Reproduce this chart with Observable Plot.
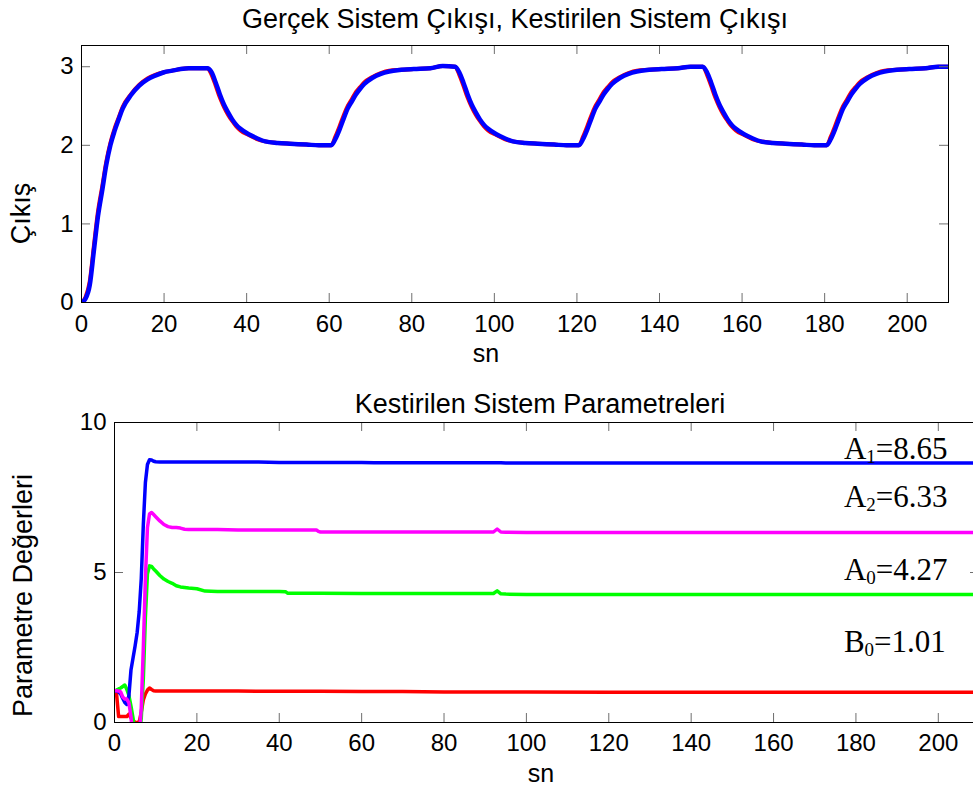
<!DOCTYPE html>
<html>
<head>
<meta charset="utf-8">
<script src="https://cdn.jsdelivr.net/npm/d3@7"></script>
<script src="https://cdn.jsdelivr.net/npm/@observablehq/plot@0.6"></script>
<style>
  html, body { margin: 0; padding: 0; background: #fff; overflow: hidden; }
  #sekil { position: relative; width: 973px; height: 791px; overflow: hidden; background: #fff; }
  #sekil > svg { position: absolute; left: 0; max-width: none; }
</style>
</head>
<body>
<div id="sekil"></div>
<script>
// ---- Üst grafik: gerçek ve kestirilen sistem çıkışı ----
const tCikis = [
  0, 1, 2, 3, 4, 5, 6, 7, 8, 9, 10, 12, 14, 16, 18, 20, 22, 24, 26, 28, 30.5,
  31.5, 32.5, 33.5, 34.5, 35.5, 36.5, 37.5, 38.5, 40.5, 42.5, 44.5, 47.5, 50.5, 54.5, 57.5, 60.5,
  61.5, 62.5, 63.5, 64.5, 65.5, 66.5, 67.5, 68.5, 70.5, 72.5, 74.5, 77.5, 80.5, 84.5, 87.5, 90.5,
  91.5, 92.5, 93.5, 94.5, 95.5, 96.5, 97.5, 98.5, 100.5, 102.5, 104.5, 107.5, 110.5, 114.5, 117.5, 120.5,
  121.5, 122.5, 123.5, 124.5, 125.5, 126.5, 127.5, 128.5, 130.5, 132.5, 134.5, 137.5, 140.5, 144.5, 147.5, 150.5,
  151.5, 152.5, 153.5, 154.5, 155.5, 156.5, 157.5, 158.5, 160.5, 162.5, 164.5, 167.5, 170.5, 174.5, 177.5, 180.5,
  181.5, 182.5, 183.5, 184.5, 185.5, 186.5, 187.5, 188.5, 190.5, 192.5, 194.5, 197.5, 200.5, 204.5, 207.5, 210
];
const yGercek = [
  0, 0.07, 0.27, 0.72, 1.16, 1.47, 1.79, 2.03, 2.21, 2.35, 2.49, 2.65, 2.77, 2.85, 2.90, 2.93, 2.95, 2.97, 2.98, 2.98, 2.98,
  2.90, 2.76, 2.61, 2.49, 2.39, 2.31, 2.24, 2.19, 2.13, 2.08, 2.05, 2.03, 2.02, 2.01, 2.00, 2.00,
  2.11, 2.24, 2.38, 2.50, 2.59, 2.68, 2.74, 2.80, 2.87, 2.92, 2.95, 2.96, 2.97, 2.98, 3.01, 3.00,
  2.90, 2.76, 2.61, 2.49, 2.39, 2.31, 2.24, 2.19, 2.13, 2.08, 2.05, 2.03, 2.02, 2.01, 2.00, 2.00,
  2.11, 2.24, 2.38, 2.50, 2.59, 2.68, 2.74, 2.80, 2.87, 2.92, 2.95, 2.96, 2.97, 2.98, 3.00, 3.00,
  2.90, 2.76, 2.61, 2.49, 2.39, 2.31, 2.24, 2.19, 2.13, 2.08, 2.05, 2.03, 2.02, 2.01, 2.00, 2.00,
  2.11, 2.24, 2.38, 2.50, 2.59, 2.68, 2.74, 2.80, 2.87, 2.92, 2.95, 2.96, 2.97, 2.98, 3.00, 3.00
];
const yKestirilen = [
  0, 0.05, 0.22, 0.66, 1.10, 1.42, 1.75, 2.00, 2.18, 2.33, 2.47, 2.64, 2.76, 2.84, 2.89, 2.93, 2.95, 2.97, 2.98, 2.98, 2.98,
  2.93, 2.80, 2.65, 2.52, 2.42, 2.33, 2.26, 2.21, 2.14, 2.09, 2.05, 2.03, 2.02, 2.01, 2.00, 2.00,
  2.08, 2.20, 2.34, 2.47, 2.56, 2.65, 2.72, 2.78, 2.86, 2.91, 2.94, 2.96, 2.97, 2.98, 3.01, 3.00,
  2.93, 2.80, 2.65, 2.52, 2.42, 2.33, 2.26, 2.21, 2.14, 2.09, 2.05, 2.03, 2.02, 2.01, 2.00, 2.00,
  2.08, 2.20, 2.34, 2.47, 2.56, 2.65, 2.72, 2.78, 2.86, 2.91, 2.94, 2.96, 2.97, 2.98, 3.00, 3.00,
  2.93, 2.80, 2.65, 2.52, 2.42, 2.33, 2.26, 2.21, 2.14, 2.09, 2.05, 2.03, 2.02, 2.01, 2.00, 2.00,
  2.08, 2.20, 2.34, 2.47, 2.56, 2.65, 2.72, 2.78, 2.86, 2.91, 2.94, 2.96, 2.97, 2.98, 3.00, 3.00
];
const xTikler = [0, 20, 40, 60, 80, 100, 120, 140, 160, 180, 200];
const yTiklerUst = [0, 1, 2, 3];

// ---- Alt grafik: kestirilen sistem parametreleri ----
const tParam = [
  0, 0.5, 1, 1.5, 2, 2.5, 3, 3.5, 4, 4.5,
  5, 5.5, 6, 6.5, 7, 7.5, 8, 8.5, 9, 9.5,
  10, 11, 12, 13, 14, 15, 16, 17, 18, 20,
  22, 25, 30, 35, 40, 41.5, 42, 45, 49, 49.5,
  50, 60, 63, 70, 80, 90, 92, 92.9, 93.8, 95,
  100, 120, 140, 160, 180, 200, 210
];
const paramA1 = [
  1.06, 1.05, 1.02, 0.95, 0.80, 0.67, 0.60, 0.90, 1.75, 2.15,
  2.55, 3.00, 3.70, 4.80, 6.60, 8.00, 8.60, 8.76, 8.75, 8.71,
  8.69, 8.68, 8.68, 8.68, 8.68, 8.68, 8.68, 8.68, 8.68, 8.68,
  8.68, 8.68, 8.68, 8.68, 8.67, 8.67, 8.67, 8.67, 8.67, 8.67,
  8.67, 8.67, 8.66, 8.66, 8.66, 8.66, 8.66, 8.66, 8.66, 8.65,
  8.65, 8.65, 8.65, 8.65, 8.65, 8.65, 8.65
];
const paramA2 = [
  1.06, 1.06, 1.05, 1.02, 0.85, 0.78, 0.78, 0.65, 0.20, -0.60,
  -1.00, -1.00, -0.50, 0.50, 2.50, 4.80, 6.50, 6.95, 7.00, 6.93,
  6.86, 6.72, 6.60, 6.53, 6.50, 6.50, 6.48, 6.44, 6.43, 6.43,
  6.43, 6.43, 6.42, 6.42, 6.42, 6.42, 6.42, 6.42, 6.42, 6.37,
  6.35, 6.35, 6.35, 6.35, 6.35, 6.35, 6.35, 6.45, 6.35, 6.34,
  6.33, 6.33, 6.33, 6.33, 6.33, 6.33, 6.33
];
const paramA0 = [
  1.06, 1.08, 1.12, 1.15, 1.20, 1.25, 1.10, 0.90, 0.55, 0.15,
  -0.40, -0.70, -0.50, 0.15, 1.45, 3.50, 4.96, 5.22, 5.20, 5.12,
  5.05, 4.90, 4.78, 4.70, 4.64, 4.56, 4.52, 4.50, 4.48, 4.46,
  4.38, 4.37, 4.37, 4.37, 4.37, 4.36, 4.31, 4.31, 4.31, 4.31,
  4.31, 4.30, 4.30, 4.30, 4.30, 4.30, 4.30, 4.39, 4.29, 4.28,
  4.27, 4.27, 4.27, 4.27, 4.27, 4.27, 4.27
];
const paramB0 = [
  1.06, 0.95, 0.20, 0.20, 0.20, 0.20, 0.20, 0.28, 0.15, 0.08,
  0.00, 0.00, 0.02, 0.35, 0.75, 0.95, 1.08, 1.15, 1.10, 1.06,
  1.05, 1.05, 1.05, 1.05, 1.05, 1.05, 1.05, 1.05, 1.05, 1.05,
  1.05, 1.05, 1.05, 1.04, 1.04, 1.04, 1.04, 1.04, 1.04, 1.04,
  1.04, 1.03, 1.03, 1.03, 1.02, 1.02, 1.02, 1.02, 1.02, 1.02,
  1.02, 1.01, 1.01, 1.01, 1.01, 1.01, 1.01
];
const yTiklerAlt = [0, 5, 10];

// Parametre etiketleri: harf, alt simge, son değer
const paramHarf = ["A", "A", "A", "B"];
const paramAltSimge = ["1", "2", "0", "0"];
const paramSonDeger = [8.65, 6.33, 4.27, 1.01];

const yaziTipi = "Liberation Sans, Arial, Helvetica, sans-serif";
const tikRengi = "#6e6e6e";
const tikBoyu = 9;

// İçe dönük tikler (dört kenarda)
function iceTikler(xs, ys, innerW, innerH) {
  return [
    Plot.tickX(xs, {x: d => d, insetTop: innerH - tikBoyu, stroke: tikRengi}),
    Plot.tickX(xs, {x: d => d, insetBottom: innerH - tikBoyu, stroke: tikRengi}),
    Plot.tickY(ys, {y: d => d, insetRight: innerW - tikBoyu, stroke: tikRengi}),
    Plot.tickY(ys, {y: d => d, insetLeft: innerW - tikBoyu, stroke: tikRengi})
  ];
}

// ---- Üst grafik ----
const ustTop = 0;
const ustW = 973, ustH = 372, ustML = 81, ustMR = 25, ustMT = 45, ustMB = 70;
const cikisVeri = tCikis.map((t, i) => ({t, gercek: yGercek[i], kestirilen: yKestirilen[i]}));

const ust = Plot.plot({
  width: ustW, height: ustH,
  marginLeft: ustML, marginRight: ustMR, marginTop: ustMT, marginBottom: ustMB,
  style: {fontFamily: yaziTipi, fontSize: "24px", background: "white", color: "black"},
  x: {domain: [0, 210]},
  y: {domain: [0, 3.27]},
  marks: [
    Plot.line(cikisVeri, {x: "t", y: "gercek", stroke: "#ff0000", strokeWidth: 4, clip: true, curve: "monotone-x"}),
    Plot.line(cikisVeri, {x: "t", y: "kestirilen", stroke: "#0000ff", strokeWidth: 4.5, clip: true, curve: "monotone-x"}),
    ...iceTikler(xTikler, yTiklerUst, ustW - ustML - ustMR, ustH - ustMT - ustMB),
    Plot.axisX({ticks: xTikler, tickSize: 0, tickPadding: 12, label: null, fontSize: 24, tickFormat: d => String(d)}),
    Plot.axisY({ticks: yTiklerUst, tickSize: 0, tickPadding: 8, label: null, fontSize: 24, tickFormat: d => String(d)}),
    Plot.frame({stroke: "black", strokeWidth: 1}),
    Plot.text(["Gerçek Sistem Çıkışı, Kestirilen Sistem Çıkışı"],
      {frameAnchor: "top", lineAnchor: "bottom", dy: -18, fontSize: 27}),
    Plot.text(["sn"], {frameAnchor: "bottom", lineAnchor: "bottom", dx: -29, dy: 59, fontSize: 25}),
    Plot.text(["Çıkış"], {frameAnchor: "top-left", lineAnchor: "bottom", textAnchor: "middle",
      rotate: -90, dx: 29 - ustML, dy: 213 - ustTop - ustMT, fontSize: 27})
  ]
});
ust.style.top = ustTop + "px";

// ---- Alt grafik ----
const altTop = 372;
const altW = 980, altH = 419, altML = 114, altMR = 1, altMT = 50, altMB = 69;
const paramVeri = tParam.map((t, i) => ({t, a1: paramA1[i], a2: paramA2[i], a0: paramA0[i], b0: paramB0[i]}));

// Etiket yerleşimi (veri birimlerinde): başlangıç zamanı ve taban çizgisi
const etiketT = 177.2;
const etiketY = [8.76, 7.16, 4.73, 2.34];

function parametreEtiketleri(index, scales) {
  const g = d3.create("svg:g")
    .attr("font-family", "Liberation Serif, 'Times New Roman', serif")
    .attr("font-size", 31)
    .attr("text-anchor", "start")
    .attr("fill", "black");
  paramSonDeger.forEach((deger, i) => {
    const t = g.append("text")
      .attr("x", scales.x(etiketT))
      .attr("y", scales.y(etiketY[i]));
    t.append("tspan").text(paramHarf[i]);
    t.append("tspan").attr("font-size", 19).attr("dy", 4).text(paramAltSimge[i]);
    t.append("tspan").attr("dy", -4).text("=" + deger.toFixed(2));
  });
  return g.node();
}

const alt = Plot.plot({
  width: altW, height: altH,
  marginLeft: altML, marginRight: altMR, marginTop: altMT, marginBottom: altMB,
  style: {fontFamily: yaziTipi, fontSize: "24px", background: "white", color: "black"},
  x: {domain: [0, 210]},
  y: {domain: [0, 10]},
  marks: [
    Plot.line(paramVeri, {x: "t", y: "b0", stroke: "#ff0000", strokeWidth: 3.5, clip: true}),
    Plot.line(paramVeri, {x: "t", y: "a0", stroke: "#00ff00", strokeWidth: 3.5, clip: true}),
    Plot.line(paramVeri, {x: "t", y: "a1", stroke: "#0000ff", strokeWidth: 3.5, clip: true}),
    Plot.line(paramVeri, {x: "t", y: "a2", stroke: "#ff00ff", strokeWidth: 3.5, clip: true}),
    ...iceTikler(xTikler, yTiklerAlt, altW - altML - altMR, altH - altMT - altMB),
    Plot.axisX({ticks: xTikler, tickSize: 0, tickPadding: 11, label: null, fontSize: 24, tickFormat: d => String(d)}),
    Plot.axisY({ticks: yTiklerAlt, tickSize: 0, tickPadding: 8, label: null, fontSize: 24, tickFormat: d => String(d)}),
    Plot.frame({stroke: "black", strokeWidth: 1}),
    parametreEtiketleri,
    Plot.text(["Kestirilen Sistem Parametreleri"],
      {frameAnchor: "top", lineAnchor: "bottom", dx: -7, dy: -10, fontSize: 27}),
    Plot.text(["sn"], {frameAnchor: "bottom", lineAnchor: "bottom", dx: -6, dy: 59, fontSize: 25}),
    Plot.text(["Parametre Değerleri"], {frameAnchor: "top-left", lineAnchor: "bottom", textAnchor: "middle",
      rotate: -90, dx: 31 - altML, dy: 595 - altTop - altMT, fontSize: 27})
  ]
});
alt.style.top = altTop + "px";

document.getElementById("sekil").append(ust, alt);
</script>
</body>
</html>
